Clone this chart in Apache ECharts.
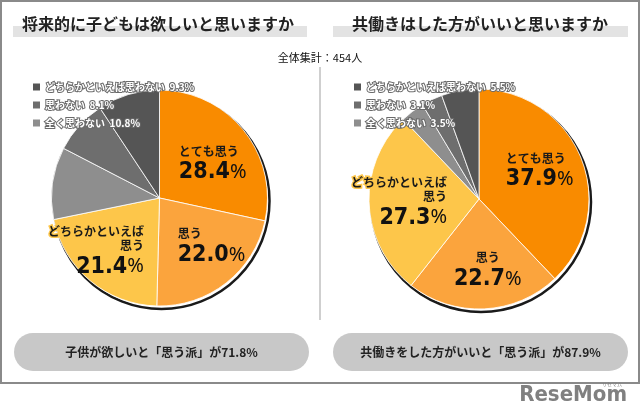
<!DOCTYPE html>
<html><head><meta charset="utf-8">
<script src="https://cdn.jsdelivr.net/npm/echarts@6/dist/echarts.min.js"></script>
<style>html,body{margin:0;padding:0;background:#fff}#c{width:640px;height:418px}</style>
</head><body><div id="c"></div>
<script>
const categories = ['とても思う','思う','どちらかといえば思う','全く思わない','思わない','どちらかといえば思わない'];
const childValues = [28.4, 22.0, 21.4, 10.8, 8.1, 9.3];
const workValues = [37.9, 22.7, 27.3, 3.5, 3.1, 5.5];
const sliceColors = ['#F98B00','#FBA43D','#FDC64A','#8E8E8E','#6E6E6E','#555555'];
const legendNames = ['どちらかといえば思わない','思わない','全く思わない'];
const chartTitles = ['将来的に子どもは欲しいと思いますか','共働きはした方がいいと思いますか'];
const totalLabel = '全体集計：454人';
const summaryPrefixes = ['子供が欲しいと「思う派」が','共働きをした方がいいと「思う派」が'];
const labelNames = ['とても思う','思う','どちらかといえば\n思う'];

const JP = "'Noto Sans CJK JP','Noto Sans',sans-serif";
const NUM = "'DejaVu Sans Condensed',sans-serif";

const labelAdjust = [
  [{align:'left',dx:-25,dy:3},{align:'left',dx:-17,dy:5},{align:'right',dx:21,dy:11}],
  [{align:'left',dx:-27,dy:-5},{align:'center',dx:6,dy:15},{align:'right',dx:26,dy:2}]
];

function buildData(values, idx){
  return categories.map((name,i)=>{
    const item = {name, value: values[i], itemStyle:{color: sliceColors[i]}};
    if(i < 3){
      item.label = {
        show:true, position:'inside',
        formatter: () => '{name|' + labelNames[i].split('\n').join('}\n{name|') + '}\n{num|' + values[i].toFixed(1) + '}{pct|%}',
        rich:{
          name:{fontSize:12,fontWeight:'bold',color:'#1a1a1a',lineHeight:14,fontFamily:JP,
                textBorderColor: sliceColors[i], textBorderWidth: 3},
          num:{fontSize:23,fontWeight:'bold',color:'#111',lineHeight:28,fontFamily:NUM},
          pct:{fontSize:20,fontWeight:'normal',color:'#111',lineHeight:28,fontFamily:"'Noto Sans',sans-serif"}
        }
      };
    } else {
      item.label = {show:false};
    }
    return item;
  });
}

function ring(center, r){
  return {type:'pie', silent:true, center:[center[0]+2, center[1]+3], radius:[0, r], z:1,
    label:{show:false}, labelLine:{show:false}, animation:false,
    data:[{value:1, name:'_ring', itemStyle:{color:'#fff', borderColor:'#1a1a1a', borderWidth:2.5}}]};
}

const centers = [[159.5,198],[479,199]];
const radii = [108,110];
const allValues = [childValues, workValues];

const series = [];
[0,1].forEach(k=>{
  series.push(ring(centers[k], radii[k]));
  series.push({
    type:'pie', center: centers[k], radius:[0, radii[k]], startAngle:90, clockwise:true,
    avoidLabelOverlap:false, z:2, animation:false,
    itemStyle:{borderColor:'#fff', borderWidth:0.8},
    labelLine:{show:false},
    labelLayout: (p) => {
      const a = labelAdjust[k][p.dataIndex];
      return a ? {align:a.align, dx:a.dx, dy:a.dy} : {};
    },
    data: buildData(allValues[k], k)
  });
});

function legendFor(k, left){
  return {
    orient:'vertical', left: left, top: 76, itemWidth:9, itemHeight:9, itemGap:6, icon:'rect',
    selectedMode:false, data: legendNames,
    formatter: name => name + '  ' + allValues[k][categories.indexOf(name)].toFixed(1) + '%',
    textStyle:{fontSize:10, fontWeight:'bold', color:'#fff', fontFamily:JP, textBorderColor:'#6a6a6a', textBorderWidth:2, padding:[0,0,0,-1]}
  };
}

function sumPos(vals){ return (vals[0]+vals[1]+vals[2]).toFixed(1); }

const chart = echarts.init(document.getElementById('c'));
chart.setOption({
  backgroundColor:'#fff',
  title:[
    {text: chartTitles[0], left:158, textAlign:'center', top:15, padding:0,
     textStyle:{fontSize:16, fontWeight:'bold', color:'#222', fontFamily:JP, lineHeight:18}},
    {text: chartTitles[1], left:480, textAlign:'center', top:15, padding:0,
     textStyle:{fontSize:16, fontWeight:'bold', color:'#222', fontFamily:JP, lineHeight:18}},
    {text: totalLabel, left:320, textAlign:'center', top:51, padding:0,
     textStyle:{fontSize:11, fontWeight:'normal', color:'#111', fontFamily:JP, lineHeight:14}}
  ],
  legend:[legendFor(0, 26), legendFor(1, 347)],
  graphic:[
    {type:'rect', shape:{x:1,y:1,width:638,height:382}, style:{fill:null, stroke:'#8a8a8a', lineWidth:2}},
    {type:'rect', shape:{x:13,y:26,width:294,height:11}, style:{fill:'#e3e3e3'}},
    {type:'rect', shape:{x:333,y:26,width:295,height:11}, style:{fill:'#e3e3e3'}},
    {type:'line', shape:{x1:320,y1:67,x2:320,y2:320}, style:{stroke:'#cfcfcf', lineWidth:2}},
    {type:'rect', shape:{x:14,y:333,width:295,height:38,r:19}, style:{fill:'#c8c8c8'}},
    {type:'rect', shape:{x:333,y:333,width:295,height:38,r:19}, style:{fill:'#c8c8c8'}},
    {type:'text', x:161.5, y:352, style:{text: summaryPrefixes[0] + sumPos(childValues) + '%', align:'center', verticalAlign:'middle',
      font:"bold 12px 'Noto Sans CJK JP', sans-serif", fill:'#222'}},
    {type:'text', x:480.5, y:352, style:{text: summaryPrefixes[1] + sumPos(workValues) + '%', align:'center', verticalAlign:'middle',
      font:"bold 12px 'Noto Sans CJK JP', sans-serif", fill:'#222'}},
    {type:'text', x:627, y:395, style:{text:'ReseMom', align:'right', verticalAlign:'middle',
      font:"bold 22px 'DejaVu Sans Condensed', sans-serif", fill:'#808080'}},
    {type:'text', x:612, y:384, style:{text:'リセマム', align:'center', verticalAlign:'middle',
      font:"5px 'Noto Sans CJK JP', sans-serif", fill:'#808080'}}
  ],
  series: series
});
</script>
</body></html>
